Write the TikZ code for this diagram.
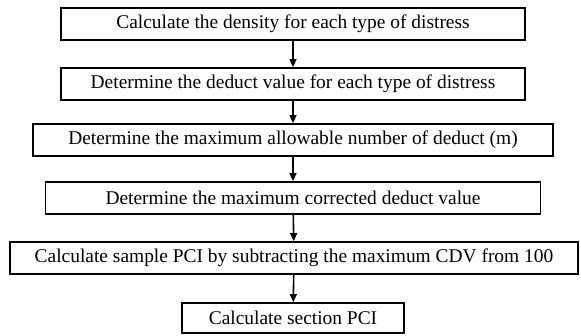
\documentclass[tikz,border=0pt]{standalone}
\usepackage{fontspec}
\setmainfont{Liberation Serif}
\usetikzlibrary{arrows.meta}
\tikzset{
  stepbox/.style={draw, line width=1.8bp, minimum height=32bp, inner sep=0pt,
    font=\fontsize{19.5}{22}\selectfont},
  flow/.style={-{Triangle[width=7bp,length=8bp]}, line width=1.6bp}
}
\begin{document}
\begin{tikzpicture}[x=1bp,y=-1bp]
    \useasboundingbox (0,0) rectangle (581,335);
    % steps
    \node[stepbox, minimum width=464bp] (density) at (293,24) {Calculate the density for each type of distress};
    \node[stepbox, minimum width=464bp] (deduct) at (293,84) {Determine the deduct value for each type of distress};
    \node[stepbox, minimum width=520bp] (maxm) at (293,140) {Determine the maximum allowable number of deduct (m)};
    \node[stepbox, minimum width=495bp] (cdv) at (293,198) {Determine the maximum corrected deduct value};
    \node[stepbox, minimum width=568bp] (sample) at (294,258) {Calculate sample PCI by subtracting the maximum CDV from 100};
    \node[stepbox, minimum width=222bp, minimum height=30bp] (section) at (293,318) {Calculate section PCI};
    % arrows
    \draw[flow] (density) -- (deduct);
    \draw[flow] (deduct) -- (maxm);
    \draw[flow] (maxm) -- (cdv);
    \draw[flow] (cdv) -- (sample);
    \draw[flow] (sample) -- (section);
\end{tikzpicture}
\end{document}
